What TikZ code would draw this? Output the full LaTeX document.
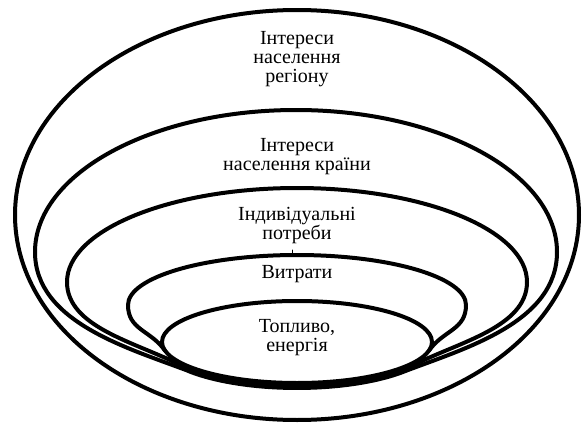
\documentclass[tikz,border=0pt]{standalone}
\usepackage{fontspec}
\setmainfont{Liberation Serif}
\begin{document}
\begin{tikzpicture}[x=1pt,y=-1pt, line width=4pt, line join=round, line cap=round,
  lbl/.style={align=center, font=\fontsize{20}{19}\selectfont, inner sep=0pt}]
\useasboundingbox (0,0) rectangle (582,423);
% outer ellipse
\draw (297,215) ellipse [x radius=282, y radius=205];
% second shape
\draw (188,370.8) .. controls (128,348) and (35,322) .. (35,252)
  .. controls (35,173.6) and (152,110) .. (296,110)
  .. controls (440,110) and (557,173.6) .. (557,252)
  .. controls (557,322) and (466,348) .. (406,370.8)
  arc[start angle=38.8, end angle=141.2, x radius=140, y radius=46] -- cycle;
% third shape
\draw (180,364.8) .. controls (135,342) and (67,327) .. (67,282)
  .. controls (67,230.1) and (170,188) .. (297,188)
  .. controls (424,188) and (527,230.1) .. (527,282)
  .. controls (527,327) and (459,342) .. (414,364.8)
  arc[start angle=31.7, end angle=148.3, x radius=137.5, y radius=43.5] -- cycle;
% fourth shape
\draw (165,350.6) .. controls (150.5,330) and (128,330) .. (128,305)
  .. controls (128,277.4) and (203.7,255) .. (297,255)
  .. controls (390.3,255) and (466,277.4) .. (466,305)
  .. controls (466,330) and (443.5,330) .. (429,350.6);
% inner ellipse
\draw (297,342) ellipse [x radius=135, y radius=41];
% small tick
\draw[line width=1pt] (292,250) -- (292,255);
% labels
\node[lbl] (t1) at (297,59) {Інтереси\\населення\\регіону};
\node[lbl] (t2) at (297,157) {Інтереси\\населення країни};
\node[lbl] (t3) at (297,226) {Індивідуальні\\потреби};
\node[lbl] (t4) at (297,274) {Витрати};
\node[lbl] (t5) at (297,338) {Топливо,\\енергія};
\end{tikzpicture}
\end{document}
